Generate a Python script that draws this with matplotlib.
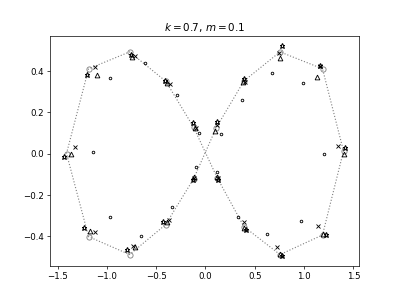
import matplotlib
matplotlib.use("Agg")
import matplotlib.pyplot as plt

# reference orbit (gray circles joined by dotted line, in path order)
ref_x = [-1.41, -1.186, -0.77, -0.402, -0.12, 0.118, 0.391, 0.756, 1.187,
         1.40, 1.187, 0.756, 0.39, 0.11, -0.12, -0.405, -0.77, -1.186]
ref_y = [0.00, 0.411, 0.493, 0.350, 0.127, -0.117, -0.355, -0.490, -0.395,
         0.012, 0.411, 0.493, 0.352, 0.126, -0.122, -0.345, -0.49, -0.403]

star_x = [-1.436, -1.197, -0.76, -0.41, -0.126, 0.128, 0.415, 0.777, 1.221,
          1.416, 1.166, 0.777, 0.39, 0.118, -0.126, -0.428, -0.794, -1.232]
star_y = [-0.016, 0.379, 0.477, 0.352, 0.15, -0.129, -0.371, -0.495, -0.395,
          0.029, 0.424, 0.521, 0.36, 0.152, -0.13, -0.334, -0.466, -0.363]

tri_x = [-1.368, -1.105, -0.746, -0.387, -0.104, 0.118, 0.391, 0.756, 1.187,
         1.40, 1.134, 0.756, 0.385, 0.10, -0.121, -0.39, -0.72, -1.17]
tri_y = [0.0, 0.379, 0.468, 0.343, 0.126, -0.116, -0.363, -0.488, -0.388,
         -0.003, 0.371, 0.461, 0.345, 0.11, -0.113, -0.33, -0.455, -0.374]

cross_x = [-1.327, -1.119, -0.712, -0.36, -0.097, 0.128, 0.391, 0.722, 1.142,
           1.347, 1.16, 0.743, 0.40, 0.118, -0.12, -0.367, -0.736, -1.122]
cross_y = [0.034, 0.421, 0.473, 0.339, 0.123, -0.12, -0.33, -0.451, -0.35,
           0.037, 0.424, 0.489, 0.345, 0.139, -0.12, -0.321, -0.446, -0.382]

dot_x = [-1.146, -0.965, -0.61, -0.292, -0.066, 0.118, 0.333, 0.62, 0.965,
         1.20, 0.989, 0.674, 0.367, 0.162, -0.095, -0.343, -0.65, -0.965]
dot_y = [0.008, 0.365, 0.439, 0.282, 0.10, -0.09, -0.306, -0.39, -0.326,
         0.0, 0.344, 0.389, 0.258, 0.097, -0.066, -0.258, -0.40, -0.31]


fig, ax = plt.subplots(figsize=(6.4, 4.8), dpi=62.35)

ax.plot(ref_x + ref_x[:1], ref_y + ref_y[:1], ":", color="gray", lw=1.3)
ax.plot(ref_x, ref_y, "o", ms=6, mfc="none", mec="gray", ls="none")
ax.plot(star_x, star_y, "*", ms=6, mfc="none", mec="black", mew=1.2, ls="none")
ax.plot(tri_x, tri_y, "^", ms=5.5, mfc="none", mec="black", ls="none")
ax.plot(cross_x, cross_y, "x", ms=5.5, color="black", ls="none")
ax.plot(dot_x, dot_y, "o", ms=3, mfc="none", mec="black", ls="none")

ax.set_title(r"$k = 0.7$, $m = 0.1$")
ax.set_xticks([-1.5, -1.0, -0.5, 0.0, 0.5, 1.0, 1.5])

fig.savefig("out.png", dpi=62.35)
